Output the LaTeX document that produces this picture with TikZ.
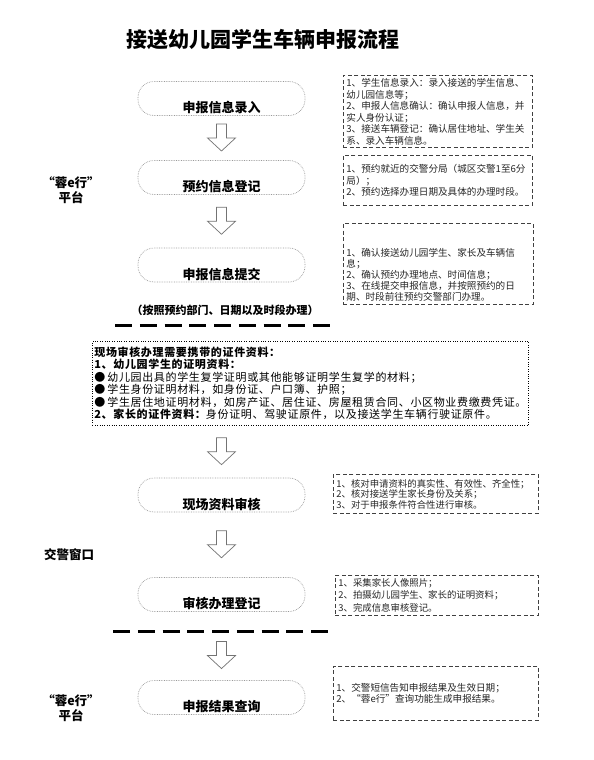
\documentclass[tikz,border=0pt]{standalone}
\usepackage{fontspec}
\setmainfont{Noto Sans CJK SC}
\newfontfamily\docfont{Noto Sans CJK SC}[LetterSpace=6]
\usetikzlibrary{calc}

\begin{document}
\begin{tikzpicture}[x=1pt,y=-1pt,
  stage/.style={draw=cPill, densely dotted, line width=0.7pt, rounded corners=16pt,
    minimum width=167pt, minimum height=34pt, inner ysep=3pt,
    text height=28pt, text depth=0pt, font=\fontsize{13}{15}\selectfont\bfseries},
  memo/.style={draw=cMemo, dash pattern=on 4pt off 2.5pt, line width=0.8pt,
    anchor=north west, align=left, inner xsep=3pt, inner ysep=3pt,
    text=black!85, font=\fontsize{9.6}{11.5}\selectfont},
  side/.style={align=center, font=\fontsize{12.5}{15}\selectfont\bfseries},
  sepline/.style={line width=3pt, dash pattern=on 17pt off 7.75pt},
  harrow/.pic={
    \draw[draw=cArrow, line width=0.7pt, fill=white, line join=miter]
      (-5,-14) -- (5,-14) -- (5,0) -- (14,0) -- (0,13) -- (-14,0) -- (-5,0) -- cycle;
  }]

% colors
\colorlet{cPill}{black!40}
\colorlet{cArrow}{black!55}
\colorlet{cMemo}{black!75}

% canvas
\fill[white] (0,0) rectangle (594,760);
\useasboundingbox (0,0) rectangle (594,760);

% geometry
\def\cx{221.5}

% title
\node[font=\fontsize{21}{24}\selectfont\bfseries] (title) at (263,40) {接送幼儿园学生车辆申报流程};

% main steps
\node[stage] (s1) at (\cx,98.5) {申报信息录入};
\node[stage] (s2) at (\cx,177.5) {预约信息登记};
\node[stage] (s3) at (\cx,265) {申报信息提交};
\node[stage] (s4) at (\cx,495) {现场资料审核};
\node[stage] (s5) at (\cx,594.5) {审核办理登记};
\node[stage] (s6) at (\cx,697.5) {申报结果查询};

% note under step 3
\node[font=\fontsize{11}{13}\selectfont\bfseries] (note) at (225,310) {（按照预约部门、日期以及时段办理）};

% separators
\draw[sepline] (115,325) coordinate (sepA) -- (330,325);
\draw[sepline] (113,631) coordinate (sepB) -- (330,631);

% documents to bring
\node[draw, dash pattern=on 0.6pt off 1.8pt, line width=0.7pt, anchor=north west, align=left,
  text width=432pt, minimum height=84pt, inner xsep=2pt,
  font=\docfont\fontsize{11}{12.5}\selectfont] (docs) at (92,341) {%
  {\bfseries 现场审核办理需要携带的证件资料：}\\
  {\bfseries 1、幼儿园学生的证明资料：}\\
  ●\hspace{2pt}幼儿园出具的学生复学证明或其他能够证明学生复学的材料；\\
  ●\hspace{2pt}学生身份证明材料，如身份证、户口簿、护照；\\
  ●\hspace{2pt}学生居住地证明材料，如房产证、居住证、房屋租赁合同、小区物业费缴费凭证。\\
  {\bfseries 2、家长的证件资料：}身份证明、驾驶证原件，以及接送学生车辆行驶证原件。};

% hollow arrows
\pic at ($(s1.south)!0.5!(s2.north)$) {harrow};
\pic at ($(s2.south)!0.5!(s3.north)$) {harrow};
\pic at ($(s4.north)!0.5!(s4.north |- docs.south)$) {harrow};
\pic at ($(s4.south)!0.5!(s5.north)$) {harrow};
\pic at ($(s6.north)!0.5!(s6.north |- sepB)$) {harrow};

% side labels
\node[side] (plat1) at (71,190) {“蓉e行”\\平台};
\node[side] (window) at (69,555) {交警窗口};
\node[side] (plat2) at (71,708) {“蓉e行”\\平台};

% step details
\node[memo, text width=183pt] (m1) at (343,75) {1、学生信息录入：录入接送的学生信息、\\幼儿园信息等；\\2、申报人信息确认：确认申报人信息，并\\实人身份认证；\\3、接送车辆登记：确认居住地址、学生关\\系、录入车辆信息。};
\node[memo, text width=183pt, minimum height=50pt] (m2) at (343,155) {1、预约就近的交警分局（城区交警1至6分\\局）；\\2、预约选择办理日期及具体的办理时段。};
\node[memo, text width=184pt, font=\fontsize{9.6}{11}\selectfont] (m3) at (343,223) {\rule{0pt}{30pt}1、确认接送幼儿园学生、家长及车辆信\\息；\\2、确认预约办理地点、时间信息；\\3、在线提交申报信息，并按照预约的日\\期、时段前往预约交警部门办理。};
\node[memo, text width=199pt, minimum height=39pt, font=\fontsize{9.4}{10.5}\selectfont] (m4) at (333,474) {1、核对申请资料的真实性、有效性、齐全性；\\2、核对接送学生家长身份及关系；\\3、对于申报条件符合性进行审核。};
\node[memo, text width=197pt, minimum height=40pt, font=\fontsize{9.4}{12.5}\selectfont] (m5) at (335,575) {1、采集家长人像照片；\\2、拍摄幼儿园学生、家长的证明资料；\\3、完成信息审核登记。};
\node[memo, text width=199pt, minimum height=54pt] (m6) at (333,666) {1、交警短信告知申报结果及生效日期；\\2、“蓉e行”查询功能生成申报结果。};

\end{tikzpicture}
\end{document}
